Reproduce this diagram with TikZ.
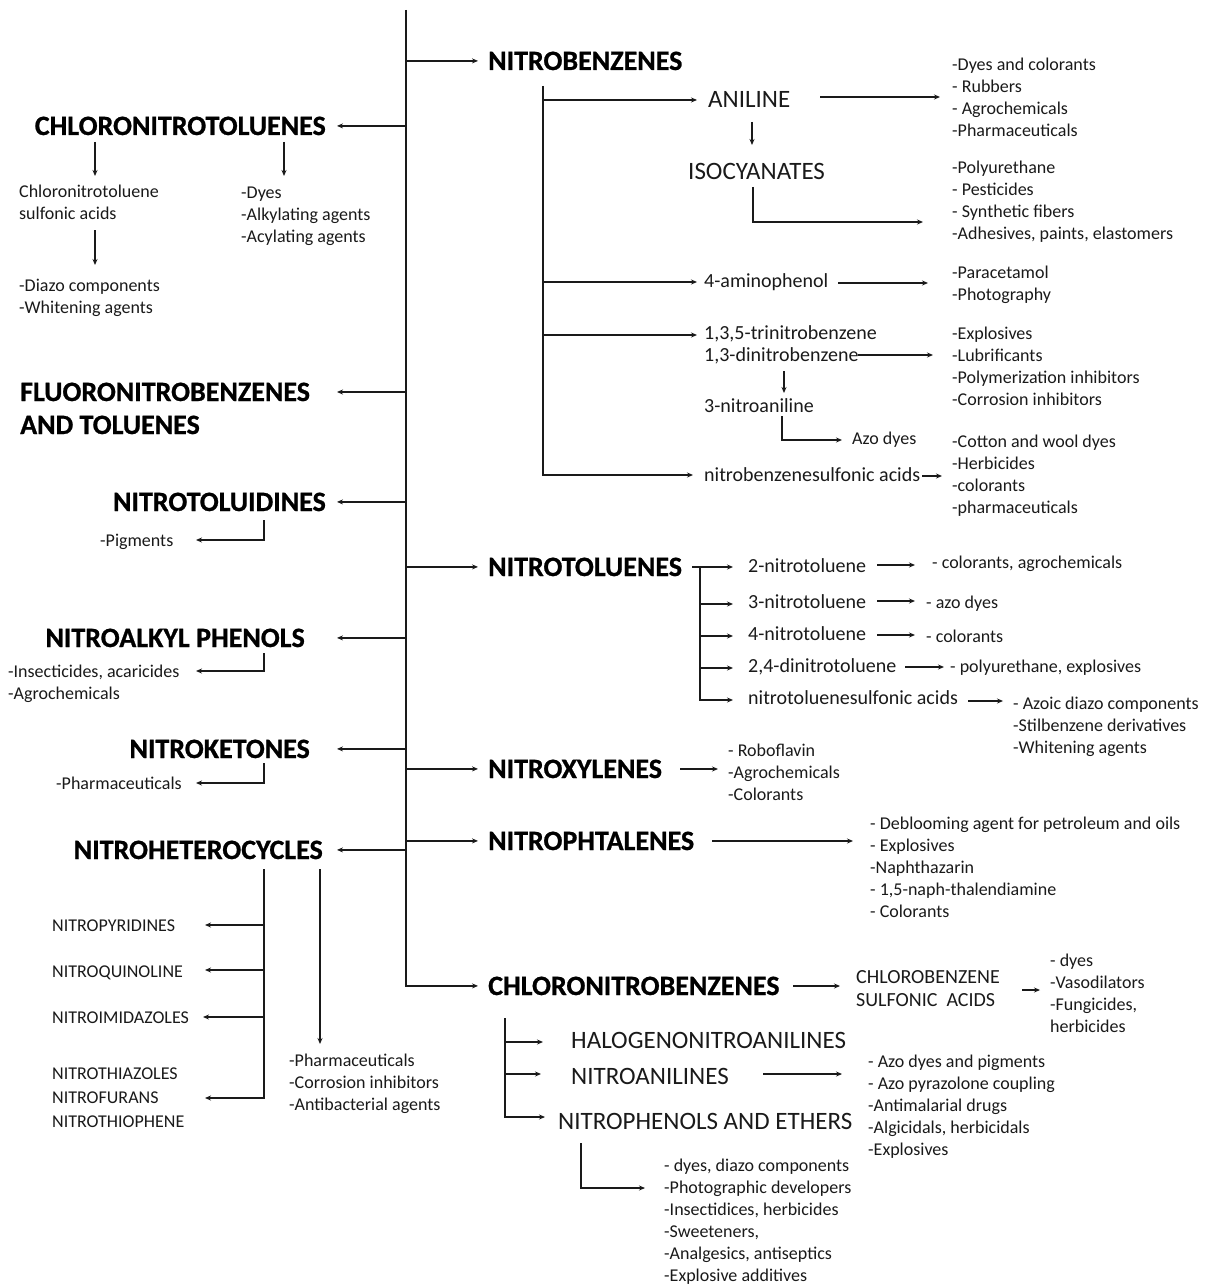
\documentclass[tikz,border=0pt]{standalone}
\usepackage{fontspec}
\setmainfont{Carlito}
\usetikzlibrary{arrows.meta,calc}
\definecolor{ink}{HTML}{1A1A1A}
\newcommand\lstk[1]{\begin{tabular}[t]{@{}l@{}}#1\end{tabular}}
\begin{document}
\begin{tikzpicture}[x=1pt,y=-1pt,
  hd/.style={font=\bfseries\fontsize{28}{33}\selectfont\addfontfeature{FakeBold=0.8}, inner sep=0pt, text=black},
  md/.style={font=\fontsize{25}{30}\selectfont, inner sep=0pt, text=ink},
  it/.style={font=\fontsize{20}{22}\selectfont, inner sep=0pt, text=ink},
  ls/.style={font=\fontsize{18}{22}\selectfont, inner sep=0pt, text=ink},
  ln/.style={line width=1.3pt, draw=ink},
  arr/.style={ln, -{Stealth[length=6pt,width=5pt]}},
]
\useasboundingbox[fill=white] (0,0) rectangle (1216,1284);

% ---------- headings ----------
\node[hd, anchor=base west] (nb)  at (488,70)  {NITROBENZENES};
\node[hd, anchor=base west] (nt)  at (488,576) {NITROTOLUENES};
\node[hd, anchor=base west] (nx)  at (488,778) {NITROXYLENES};
\node[hd, anchor=base west] (np)  at (488,850) {NITROPHTALENES};
\node[hd, anchor=base west] (cnb) at (488,995) {CHLORONITROBENZENES};
\node[hd, anchor=base east] (cnt) at (326,135) {CHLORONITROTOLUENES};
\node[hd, anchor=base west] (fnb) at (20,401)  {\lstk{FLUORONITROBENZENES\\AND TOLUENES}};
\node[hd, anchor=base east] (ntd) at (326,511) {NITROTOLUIDINES};
\node[hd, anchor=base east] (nap) at (305,647) {NITROALKYL PHENOLS};
\node[hd, anchor=base east] (nk)  at (310,758) {NITROKETONES};
\node[hd, anchor=base east] (nh)  at (323,859) {NITROHETEROCYCLES};

% ---------- medium ----------
\node[md, anchor=base west] (ani) at (708,108)  {ANILINE};
\node[md, anchor=base west] (iso) at (688,180)  {ISOCYANATES};
\node[md, anchor=base west] (hal) at (571,1048) {HALOGENONITROANILINES};
\node[md, anchor=base west] (nan) at (571,1084) {NITROANILINES};
\node[md, anchor=base west] (nph) at (558,1129) {NITROPHENOLS AND ETHERS};

% ---------- items ----------
\node[it, anchor=base west] (amp)  at (704,287) {4-aminophenol};
\node[it, anchor=base west] (tnb)  at (704,339) {\lstk{1,3,5-trinitrobenzene\\1,3-dinitrobenzene}};
\node[it, anchor=base west] (nan3) at (704,412) {3-nitroaniline};
\node[it, anchor=base west] (nbs)  at (704,481) {nitrobenzenesulfonic acids};
\node[it, anchor=base west] (t2)   at (748,572) {2-nitrotoluene};
\node[it, anchor=base west] (t3)   at (748,608) {3-nitrotoluene};
\node[it, anchor=base west] (t4)   at (748,640) {4-nitrotoluene};
\node[it, anchor=base west] (t24)  at (748,672) {2,4-dinitrotoluene};
\node[it, anchor=base west] (tsa)  at (748,704) {nitrotoluenesulfonic acids};
\node[it, anchor=base west, font=\fontsize{20}{23}\selectfont] (cbs) at (856,983) {\lstk{CHLOROBENZENE\\SULFONIC\ \ ACIDS}};

% ---------- lists ----------
\node[ls, anchor=base west] (aniU) at (952,71)  {\lstk{-Dyes and colorants\\- Rubbers\\- Agrochemicals\\-Pharmaceuticals}};
\node[ls, anchor=base west] (isoU) at (952,174) {\lstk{-Polyurethane\\- Pesticides\\- Synthetic fibers\\-Adhesives, paints, elastomers}};
\node[ls, anchor=base west] (ampU) at (952,278) {\lstk{-Paracetamol\\-Photography}};
\node[ls, anchor=base west] (tnbU) at (952,339) {\lstk{-Explosives\\-Lubrificants\\-Polymerization inhibitors\\-Corrosion inhibitors}};
\node[ls, anchor=base west] (azo)  at (852,444) {Azo dyes};
\node[ls, anchor=base west] (nbsU) at (952,447) {\lstk{-Cotton and wool dyes\\-Herbicides\\-colorants\\-pharmaceuticals}};
\node[ls, anchor=base west] (t2U)  at (932,568) {- colorants, agrochemicals};
\node[ls, anchor=base west] (t3U)  at (926,608) {- azo dyes};
\node[ls, anchor=base west] (t4U)  at (926,642) {- colorants};
\node[ls, anchor=base west] (t24U) at (950,672) {- polyurethane, explosives};
\node[ls, anchor=base west] (tsaU) at (1013,709) {\lstk{- Azoic diazo components\\-Stilbenzene derivatives\\-Whitening agents}};
\node[ls, anchor=base west] (nxU)  at (728,756) {\lstk{- Roboflavin\\-Agrochemicals\\-Colorants}};
\node[ls, anchor=base west] (npU)  at (870,829) {\lstk{- Deblooming agent for petroleum and oils\\- Explosives\\-Naphthazarin\\- 1,5-naph-thalendiamine\\- Colorants}};
\node[ls, anchor=base west] (cbsU) at (1050,966) {\lstk{- dyes\\-Vasodilators\\-Fungicides,\\herbicides}};
\node[ls, anchor=base west] (nanU) at (868,1067) {\lstk{- Azo dyes and pigments\\- Azo pyrazolone coupling\\-Antimalarial drugs\\-Algicidals, herbicidals\\-Explosives}};
\node[ls, anchor=base west] (nphU) at (664,1171) {\lstk{- dyes, diazo components\\-Photographic developers\\-Insectidices, herbicides\\-Sweeteners,\\-Analgesics, antiseptics\\-Explosive additives}};
\node[ls, anchor=base west] (cntA) at (19,197)  {\lstk{Chloronitrotoluene\\sulfonic acids}};
\node[ls, anchor=base west] (cntD) at (19,291)  {\lstk{-Diazo components\\-Whitening agents}};
\node[ls, anchor=base west] (cntB) at (241,198) {\lstk{-Dyes\\-Alkylating agents\\-Acylating agents}};
\node[ls, anchor=base west] (pig)  at (100,546) {-Pigments};
\node[ls, anchor=base west] (napU) at (8,677)   {\lstk{-Insecticides, acaricides\\-Agrochemicals}};
\node[ls, anchor=base west] (nkU)  at (56,789)  {-Pharmaceuticals};
\node[ls, anchor=base west] (h1)   at (52,931)  {NITROPYRIDINES};
\node[ls, anchor=base west] (h2)   at (52,977)  {NITROQUINOLINE};
\node[ls, anchor=base west] (h3)   at (52,1023) {NITROIMIDAZOLES};
\node[ls, anchor=base west, font=\fontsize{18}{24}\selectfont] (h4) at (52,1079) {\lstk{NITROTHIAZOLES\\NITROFURANS\\NITROTHIOPHENE}};
\node[ls, anchor=base west] (nhU)  at (289,1066) {\lstk{-Pharmaceuticals\\-Corrosion inhibitors\\-Antibacterial agents}};

% ---------- main trunk ----------
\coordinate (T0) at (406,10);
\coordinate (xL) at (337,0);
\coordinate (fA) at (337,392);
\draw[arr] (T0) |- ($(cnb.west)+(-10,0)$);
\foreach \n in {nb,nt,nx,np}
  \draw[arr] (T0 |- \n.west) -- ($(\n.west)+(-10,0)$);
\foreach \n in {cnt,ntd,nap,nk,nh}
  \draw[arr] (T0 |- \n.east) -- (\n.east -| xL);
\draw[arr] (T0 |- fA) -- (fA);

% ---------- left sub-branches ----------
\draw[arr] ($(cntA.base west)+(76,-55)$) -- ($(cntA.base west)+(76,-21)$);
\draw[arr] ($(cntB.base west)+(43,-56)$) -- ($(cntB.base west)+(43,-22)$);
\draw[arr] ($(cntA.base west)+(76,33)$) -- ($(cntD.base west)+(76,-26)$);
\draw[arr] ($(pig.base west)+(164,-26)$) |- ($(pig.base west)+(96,-6)$);
\draw[arr] ($(napU.base west)+(256,-24)$) |- ($(napU.base west)+(188,-6)$);
\draw[arr] ($(nkU.base west)+(208,-26)$) |- ($(nkU.base west)+(140,-6)$);
\coordinate (hv) at ($(nh.base east)+(-59,10)$);
\draw[arr] (hv) |- ($(h4.base west)+(153,19)$);
\draw[arr] ($(h1.base west)+(212,-6)$) -- ($(h1.base west)+(153,-6)$);
\draw[arr] ($(h2.base west)+(212,-7)$) -- ($(h2.base west)+(153,-7)$);
\draw[arr] ($(h3.base west)+(212,-6)$) -- ($(h3.base west)+(151,-6)$);
\draw[arr] ($(nhU.base west)+(31,-197)$) -- ($(nhU.base west)+(31,-22)$);

% ---------- nitrobenzenes ----------
\coordinate (nbv) at ($(nb.base west)+(55,16)$);
\draw[arr] (nbv) |- ($(nbs.base west)+(-11,-6)$);
\draw[arr] (nbv |- ani.west) -- ($(ani.west)+(-11,0)$);
\draw[arr] ($(amp.base west)+(-161,-5)$) -- ($(amp.base west)+(-7,-5)$);
\draw[arr] ($(tnb.base west)+(-161,-4)$) -- ($(tnb.base west)+(-7,-4)$);
\draw[arr] ($(ani.base west)+(112,-11)$) -- ($(aniU.base west)+(-12,26)$);
\draw[arr] ($(ani.base west)+(44,14)$) -- ($(iso.base west)+(64,-35)$);
\draw[arr] ($(iso.base west)+(65,7)$) |- ($(isoU.base west)+(-29,48)$);
\draw[arr] ($(amp.base west)+(134,-4)$) -- ($(ampU.base west)+(-24,5)$);
\draw[arr] ($(tnb.base west)+(154,16)$) -- ($(tnbU.base west)+(-19,16)$);
\draw[arr] ($(nan3.base west)+(80,-41)$) -- ($(nan3.base west)+(80,-19)$);
\draw[arr] ($(nan3.base west)+(78,4)$) |- ($(azo.base west)+(-10,-4)$);
\draw[arr] ($(nbs.base west)+(218,-5)$) -- ($(nbsU.base west)+(-10,29)$);

% ---------- nitrotoluenes ----------
\coordinate (ntv) at ($(t2.base west)+(-48,-5)$);
\draw[arr] ($(t2.base west)+(-56,-5)$) -- ($(t2.base west)+(-15,-5)$);
\draw[arr] (ntv) |- ($(tsa.base west)+(-15,-4)$);
\foreach \n in {t3,t4,t24}
  \draw[arr] ($(\n.base west)+(-48,-4)$) -- ($(\n.base west)+(-15,-4)$);
\draw[arr] ($(t2.base west)+(129,-7)$) -- ($(t2U.base west)+(-17,-3)$);
\draw[arr] ($(t3.base west)+(129,-7)$) -- ($(t3U.base west)+(-11,-7)$);
\draw[arr] ($(t4.base west)+(129,-5)$) -- ($(t4U.base west)+(-11,-7)$);
\draw[arr] ($(t24.base west)+(157,-5)$) -- ($(t24U.base west)+(-6,-5)$);
\draw[arr] ($(tsa.base west)+(220,-3)$) -- ($(tsaU.base west)+(-10,-8)$);

% ---------- nitroxylenes, nitrophtalenes ----------
\draw[arr] ($(nxU.base west)+(-48,13)$) -- ($(nxU.base west)+(-10,13)$);
\draw[arr] ($(npU.base west)+(-158,12)$) -- ($(npU.base west)+(-17,12)$);

% ---------- chloronitrobenzenes ----------
\draw[arr] ($(cbs.base west)+(-63,3)$) -- ($(cbs.base west)+(-16,3)$);
\draw[arr] ($(cbsU.base west)+(-28,24)$) -- ($(cbsU.base west)+(-10,24)$);
\coordinate (cv) at ($(hal.base west)+(-66,-30)$);
\draw[arr] (cv) |- ($(nph.base west)+(-13,-12)$);
\draw[arr] ($(hal.base west)+(-66,-6)$) -- ($(hal.base west)+(-28,-6)$);
\draw[arr] ($(nan.base west)+(-66,-10)$) -- ($(nan.base west)+(-30,-10)$);
\draw[arr] ($(nan.base west)+(192,-10)$) -- ($(nanU.base west)+(-26,7)$);
\draw[arr] ($(nph.base west)+(23,14)$) |- ($(nphU.base west)+(-19,17)$);
\end{tikzpicture}
\end{document}
